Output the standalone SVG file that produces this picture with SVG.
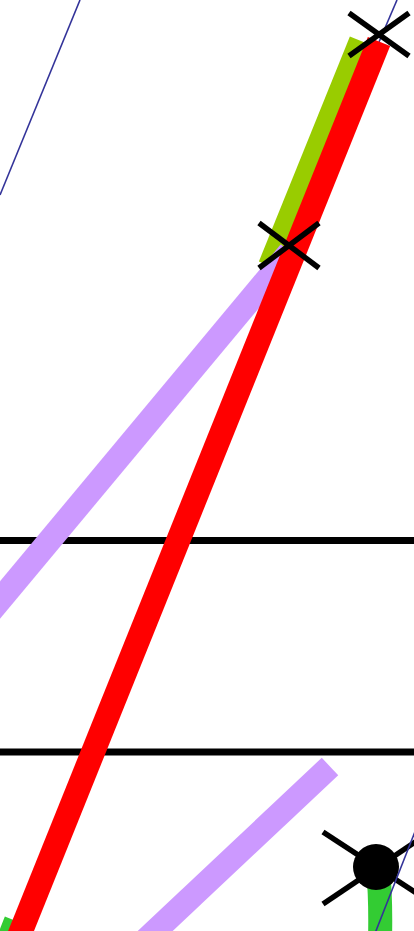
<svg xmlns="http://www.w3.org/2000/svg" width="414" height="931" viewBox="0 0 414 931">
<style>
.rule{stroke:#000;stroke-width:7;fill:none}
.thin{stroke:#333399;stroke-width:1.6;fill:none}
.thick{stroke-width:24;fill:none;stroke-linecap:butt}
.x{stroke:#000;stroke-width:5.5;fill:none}
</style>
<rect width="414" height="931" fill="#fff"/>
<g id="connectors">
<line class="rule" x1="0" y1="540.5" x2="414" y2="540.5"/>
<line class="rule" x1="0" y1="752" x2="414" y2="752"/>
<line class="thin" x1="80" y1="0" x2="0" y2="195"/>
<line class="thin" x1="397" y1="0" x2="379" y2="42"/>
<line class="thick" stroke="#99cc00" x1="361" y1="41" x2="270" y2="266"/>
<line class="thick" stroke="#33cc33" x1="16" y1="921" x2="6" y2="946"/>
<line class="thick" stroke="#cc99ff" x1="290" y1="252" x2="-20" y2="624"/>
<line class="thick" stroke="#cc99ff" x1="330" y1="766.5" x2="135" y2="950"/>
<line class="thick" stroke="#ff0000" x1="379" y1="41.5" x2="13" y2="951"/>
<path class="thick" stroke="#33cc33" d="M378,868 Q381,900 380,940"/>
</g>
<g id="cross-top">
<line class="x" x1="349" y1="13" x2="409" y2="56"/>
<line class="x" x1="349" y1="56" x2="409" y2="13"/>
</g>
<g id="cross-mid">
<line class="x" x1="259" y1="223" x2="319" y2="268"/>
<line class="x" x1="259" y1="268" x2="319" y2="223"/>
</g>
<g id="station">
<line class="x" x1="323" y1="832" x2="430" y2="902"/>
<line class="x" x1="323" y1="904" x2="430" y2="832"/>
<circle cx="376" cy="867" r="23" fill="#000"/>
</g>
<g id="connector-overlay">
<line class="thin" x1="440" y1="768" x2="372" y2="941"/>
</g>
</svg>
